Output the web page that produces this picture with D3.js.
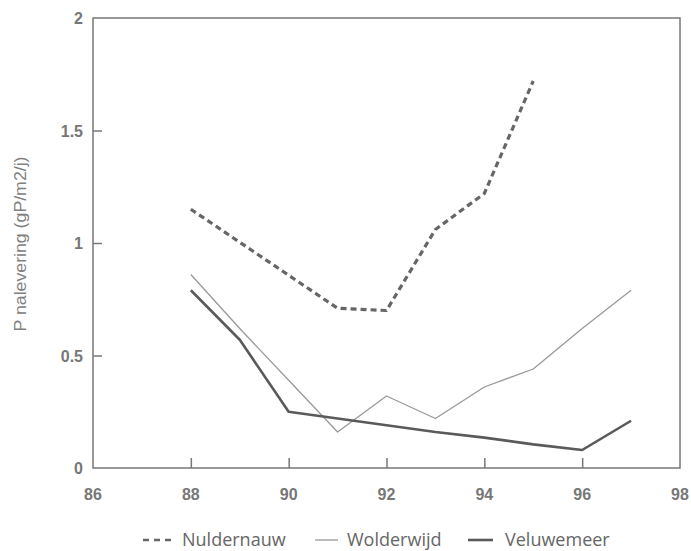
<!DOCTYPE html>
<html>
<head>
<meta charset="utf-8">
<script src="https://cdn.jsdelivr.net/npm/d3@7"></script>
<style>
body { margin: 0; background: #fff; }
</style>
</head>
<body>
<div id="chart"></div>
<script>
var xTicks = [86, 88, 90, 92, 94, 96, 98];
var yTicks = [0, 0.5, 1, 1.5, 2];
var yTickLabels = ['0', '0.5', '1', '1.5', '2'];

var nuldernauwYears = [88, 91, 92, 93, 94, 95];
var nuldernauwValues = [1.15, 0.71, 0.70, 1.06, 1.22, 1.72];

var wolderwijdYears = [88, 89, 90, 91, 92, 93, 94, 95, 96, 97];
var wolderwijdValues = [0.86, 0.62, 0.39, 0.16, 0.32, 0.22, 0.36, 0.44, 0.62, 0.79];

var veluwemeerYears = [88, 89, 90, 91, 92, 93, 94, 95, 96, 97];
var veluwemeerValues = [0.79, 0.57, 0.25, 0.22, 0.19, 0.16, 0.135, 0.105, 0.08, 0.21];

var seriesNames = ['Nuldernauw', 'Wolderwijd', 'Veluwemeer'];

window.onload = function(){
	var width = 691, height = 551;
	var svg = d3.select('#chart').append('svg').attr('width', width).attr('height', height);

	var x = d3.scaleLinear().domain([86, 98]).range([93, 680]);
	var y = d3.scaleLinear().domain([0, 2]).range([468, 18]);

	// frame
	svg.append('rect')
		.attr('x', x(86)).attr('y', y(2))
		.attr('width', x(98) - x(86)).attr('height', y(0) - y(2))
		.attr('fill', 'none').attr('stroke', '#777').attr('stroke-width', 1.5);

	// inner ticks
	var xAxis = d3.axisBottom(x).tickValues(xTicks.slice(1, -1)).tickSize(-10).tickFormat('');
	var gx = svg.append('g').attr('transform', 'translate(0,' + y(0) + ')').call(xAxis);
	var yAxis = d3.axisLeft(y).tickValues(yTicks.slice(1, -1)).tickSize(-9).tickFormat('');
	var gy = svg.append('g').attr('transform', 'translate(' + x(86) + ',0)').call(yAxis);
	[gx, gy].forEach(function(g){
		g.select('.domain').remove();
		g.selectAll('line').attr('stroke', '#777').attr('stroke-width', 1.5);
	});

	// tick labels
	svg.selectAll('.xl').data(xTicks).enter().append('text')
		.attr('x', function(d){ return x(d); })
		.attr('y', 500)
		.attr('text-anchor', 'middle')
		.attr('font-family', 'Liberation Sans, Arial, sans-serif')
		.attr('font-weight', 'bold')
		.attr('font-size', 16)
		.attr('fill', '#777')
		.text(function(d){ return d; });

	svg.selectAll('.yl').data(yTicks).enter().append('text')
		.attr('x', 83)
		.attr('y', function(d){ return y(d) + 6; })
		.attr('text-anchor', 'end')
		.attr('font-family', 'Liberation Sans, Arial, sans-serif')
		.attr('font-weight', 'bold')
		.attr('font-size', 16)
		.attr('fill', '#777')
		.text(function(d, i){ return yTickLabels[i]; });

	svg.append('text')
		.attr('transform', 'translate(26,244) rotate(-90)')
		.attr('text-anchor', 'middle')
		.attr('font-family', 'Liberation Sans, Arial, sans-serif')
		.attr('font-size', 16)
		.attr('fill', '#808080')
		.attr('textLength', 175)
		.attr('lengthAdjust', 'spacingAndGlyphs')
		.text('P nalevering (gP/m2/j)');

	var line = d3.line()
		.x(function(d){ return x(d[0]); })
		.y(function(d){ return y(d[1]); });

	var styles = [
		{ stroke: '#666', width: 3.2, dash: '6,4' },
		{ stroke: '#999', width: 1.3, dash: null },
		{ stroke: '#5a5a5a', width: 2.6, dash: null }
	];
	var series = [
		d3.zip(nuldernauwYears, nuldernauwValues),
		d3.zip(wolderwijdYears, wolderwijdValues),
		d3.zip(veluwemeerYears, veluwemeerValues)
	];

	series.forEach(function(s, i){
		svg.append('path')
			.attr('d', line(s))
			.attr('fill', 'none')
			.attr('stroke', styles[i].stroke)
			.attr('stroke-width', styles[i].width)
			.attr('stroke-dasharray', styles[i].dash)
			.attr('stroke-linejoin', 'round');
	});

	// legend
	var legendX = [143, 315, 468];
	var legendLen = [29, 23, 25];
	var legendText = [182, 347, 505];
	var legend = svg.selectAll('.leg').data(seriesNames).enter().append('g')
		.attr('transform', function(d, i){ return 'translate(' + legendX[i] + ',540)'; });
	legend.append('line')
		.attr('x1', 0).attr('x2', function(d, i){ return legendLen[i]; })
		.attr('y1', 0).attr('y2', 0)
		.attr('stroke', function(d, i){ return styles[i].stroke; })
		.attr('stroke-width', function(d, i){ return i == 1 ? 1.3 : 2.6; })
		.attr('stroke-dasharray', function(d, i){ return i == 0 ? '6,5' : null; });
	legend.append('text')
		.attr('x', function(d, i){ return legendText[i] - legendX[i]; })
		.attr('y', 6)
		.attr('font-family', 'Open Sans, sans-serif')
		.attr('font-size', 18)
		.attr('fill', '#666')
		.text(function(d){ return d; });
};
</script>
</body>
</html>
